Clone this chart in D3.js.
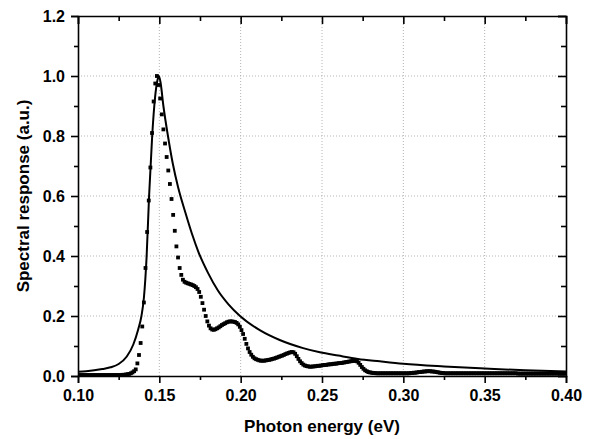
<!DOCTYPE html>
<html>
<head>
<meta charset="utf-8">
<script src="https://cdn.jsdelivr.net/npm/d3@7"></script>
<style>
  body { margin: 0; background: #fff; }
  text { font-family: "Liberation Sans", Arial, sans-serif; font-weight: bold; }
</style>
</head>
<body>
<div id="chart"></div>
<script>
// solid curve
var solidEnergy = [0.100, 0.105, 0.110, 0.115, 0.120, 0.125, 0.130, 0.134, 0.137, 0.139,
  0.1405, 0.1422, 0.1437, 0.1456, 0.1474, 0.1488, 0.1497, 0.1507, 0.1525, 0.1553,
  0.1582, 0.1615, 0.166, 0.170, 0.174, 0.180, 0.186, 0.1925, 0.1996, 0.212,
  0.224, 0.2384, 0.2487, 0.26, 0.2721, 0.2855, 0.30, 0.325, 0.35, 0.375, 0.40];
var solidValue = [0.014, 0.016, 0.019, 0.023, 0.029, 0.040, 0.065, 0.105, 0.155, 0.2,
  0.26, 0.4, 0.6, 0.8, 0.93, 0.985, 1.0, 0.98, 0.9, 0.8,
  0.71, 0.63, 0.545, 0.475, 0.414, 0.343, 0.285, 0.239, 0.2, 0.152,
  0.12, 0.093, 0.079, 0.068, 0.057, 0.049, 0.041, 0.032, 0.025, 0.019, 0.015];

// measured spectrum (square markers), sampled every 1 meV from 0.1005 eV
var markerStart = 0.1005, markerStep = 0.001;
var markerValue = [
  0.003,0.003,0.003,0.003,0.003,0.003,0.003,0.003,0.003,0.003,
  0.003,0.003,0.003,0.003,0.003,0.003,0.003,0.003,0.003,0.003,
  0.003,0.003,0.003,0.003,0.003,0.003,0.003,0.004,0.004,0.005,
  0.006,0.007,0.009,0.012,0.016,0.022,0.042,0.07,0.11,0.165,
  0.245,0.36,0.48,0.585,0.695,0.81,0.915,0.975,1.0,0.97,
  0.925,0.872,0.822,0.775,0.73,0.685,0.64,0.59,0.537,0.484,
  0.432,0.395,0.36,0.337,0.321,0.314,0.311,0.309,0.307,0.305,
  0.303,0.3,0.296,0.29,0.28,0.264,0.243,0.221,0.2,0.182,
  0.168,0.159,0.155,0.154,0.156,0.159,0.162,0.166,0.17,0.173,
  0.176,0.179,0.181,0.182,0.182,0.181,0.18,0.177,0.172,0.164,
  0.153,0.14,0.124,0.107,0.092,0.08,0.071,0.064,0.059,0.056,
  0.054,0.052,0.051,0.051,0.051,0.052,0.053,0.054,0.055,0.057,
  0.058,0.06,0.062,0.064,0.066,0.068,0.07,0.073,0.075,0.077,
  0.079,0.08,0.079,0.074,0.066,0.057,0.049,0.043,0.038,0.035,
  0.033,0.032,0.031,0.031,0.032,0.032,0.033,0.034,0.034,0.035,
  0.036,0.037,0.037,0.038,0.039,0.039,0.04,0.041,0.041,0.042,
  0.043,0.043,0.044,0.045,0.046,0.047,0.048,0.049,0.05,0.05,
  0.051,0.049,0.044,0.037,0.03,0.024,0.019,0.016,0.013,0.012,
  0.011,0.01,0.01,0.009,0.009,0.009,0.009,0.009,0.009,0.009,
  0.009,0.009,0.009,0.009,0.009,0.009,0.009,0.009,0.009,0.009,
  0.009,0.009,0.009,0.009,0.01,0.01,0.011,0.011,0.012,0.013,
  0.013,0.014,0.015,0.015,0.016,0.016,0.016,0.015,0.015,0.014,
  0.013,0.012,0.011,0.01,0.01,0.009,0.009,0.009,0.009,0.009,
  0.009,0.009,0.009,0.009,0.009,0.009,0.009,0.009,0.009,0.009,
  0.009,0.009,0.009,0.009,0.009,0.009,0.009,0.009,0.009,0.009,
  0.009,0.009,0.009,0.009,0.009,0.009,0.009,0.009,0.009,0.009,
  0.009,0.009,0.009,0.009,0.009,0.009,0.009,0.009,0.009,0.009,
  0.008,0.008,0.008,0.008,0.008,0.008,0.008,0.008,0.008,0.008,
  0.008,0.008,0.008,0.008,0.008,0.008,0.008,0.008,0.008,0.008,
  0.008,0.008,0.008,0.008,0.008,0.008,0.008,0.008,0.008,0.008
];

var xTicks = [0.10, 0.15, 0.20, 0.25, 0.30, 0.35, 0.40];
var xMinor = [0.125, 0.175, 0.225, 0.275, 0.325, 0.375];
var yTicks = [0.0, 0.2, 0.4, 0.6, 0.8, 1.0, 1.2];
var yMinor = [0.1, 0.3, 0.5, 0.7, 0.9, 1.1];

var width = 596, height = 439,
    margin = {top: 16, right: 30, bottom: 63, left: 78};

var x = d3.scaleLinear().domain([0.10, 0.40]).range([margin.left, width - margin.right]);
var y = d3.scaleLinear().domain([0, 1.2]).range([height - margin.bottom, margin.top]);

var svg = d3.select("#chart").append("svg")
  .attr("width", width)
  .attr("height", height);

// dotted grid
svg.append("g").selectAll("line")
  .data(xTicks.slice(1, -1))
  .enter().append("line")
  .attr("x1", d => x(d)).attr("x2", d => x(d))
  .attr("y1", y(0)).attr("y2", y(1.2))
  .style("stroke", "#b4b4b4").style("stroke-width", 1)
  .style("stroke-dasharray", "1,2");
svg.append("g").selectAll("line")
  .data(yTicks.slice(1, -1))
  .enter().append("line")
  .attr("x1", x(0.10)).attr("x2", x(0.40))
  .attr("y1", d => y(d)).attr("y2", d => y(d))
  .style("stroke", "#b4b4b4").style("stroke-width", 1)
  .style("stroke-dasharray", "1,2");

svg.append("clipPath").attr("id", "clip")
  .append("rect")
  .attr("x", x(0.10)).attr("y", y(1.2))
  .attr("width", x(0.40) - x(0.10)).attr("height", y(0) - y(1.2));

var plot = svg.append("g").attr("clip-path", "url(#clip)");

// markers
var markers = markerValue.map((v, i) => ({e: markerStart + i * markerStep, v: v}));
var ms = 3.8;
plot.selectAll("rect.m")
  .data(markers)
  .enter().append("rect")
  .attr("class", "m")
  .attr("x", d => x(d.e) - ms / 2)
  .attr("y", d => y(d.v) - ms / 2)
  .attr("width", ms).attr("height", ms)
  .style("fill", "#000");

// solid line
var line = d3.line()
  .curve(d3.curveMonotoneX)
  .x(d => x(d[0]))
  .y(d => y(d[1]));
plot.append("path")
  .datum(solidEnergy.map((e, i) => [e, solidValue[i]]))
  .attr("d", line)
  .style("fill", "none")
  .style("stroke", "#000")
  .style("stroke-width", 2);

// axes: outward on bottom/left, mirrored inward on top/right
function addAxis(axis, tx, ty) {
  var g = svg.append("g").attr("transform", "translate(" + tx + "," + ty + ")").call(axis);
  g.selectAll("path").style("stroke-width", 1.6);
  g.selectAll("line").style("stroke-width", 1.6);
  return g;
}

var fmt2 = d3.format(".2f"), fmt1 = d3.format(".1f");

var bottom = addAxis(d3.axisBottom(x).tickValues(xTicks).tickFormat(fmt2).tickSizeOuter(0).tickSize(7).tickPadding(7), 0, y(0));
addAxis(d3.axisBottom(x).tickValues(xMinor).tickFormat("").tickSize(4).tickSizeOuter(0), 0, y(0)).select(".domain").remove();
bottom.selectAll("text").style("font-size", "16px").style("fill", "#000");

var left = addAxis(d3.axisLeft(y).tickValues(yTicks).tickFormat(fmt1).tickSizeOuter(0).tickSize(7).tickPadding(6), x(0.10), 0);
addAxis(d3.axisLeft(y).tickValues(yMinor).tickFormat("").tickSize(4).tickSizeOuter(0), x(0.10), 0).select(".domain").remove();
left.selectAll("text").style("font-size", "16px").style("fill", "#000");

addAxis(d3.axisBottom(x).tickValues(xTicks).tickFormat("").tickSizeOuter(0).tickSize(8), 0, y(1.2));
addAxis(d3.axisBottom(x).tickValues(xMinor).tickFormat("").tickSize(5).tickSizeOuter(0), 0, y(1.2)).select(".domain").remove();
addAxis(d3.axisLeft(y).tickValues(yTicks).tickFormat("").tickSizeOuter(0).tickSize(8), x(0.40), 0);
addAxis(d3.axisLeft(y).tickValues(yMinor).tickFormat("").tickSize(5).tickSizeOuter(0), x(0.40), 0).select(".domain").remove();

// titles
svg.append("text")
  .attr("x", (x(0.10) + x(0.40)) / 2)
  .attr("y", 432)
  .attr("text-anchor", "middle")
  .style("font-size", "17px")
  .text("Photon energy (eV)");

svg.append("text")
  .attr("transform", "translate(29," + (y(0) + y(1.2)) / 2 + ") rotate(-90)")
  .attr("text-anchor", "middle")
  .style("font-size", "17px")
  .text("Spectral response (a.u.)");
</script>
</body>
</html>
